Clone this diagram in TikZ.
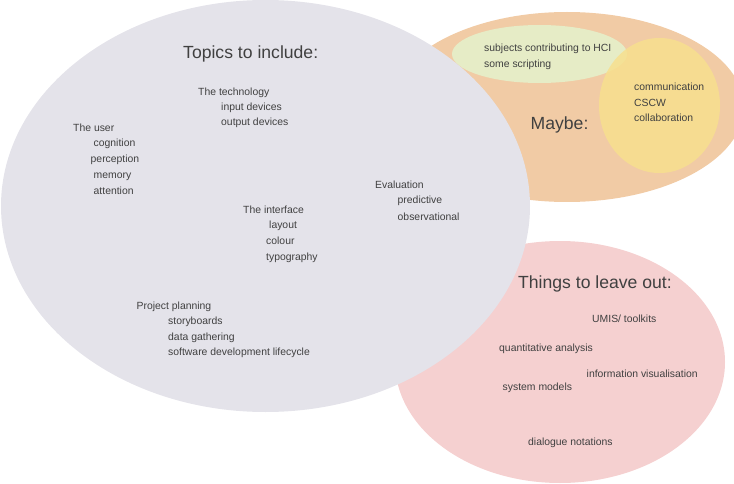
\documentclass[tikz,border=0pt]{standalone}
\usepackage{fontspec}
\setmainfont{Liberation Sans}
\definecolor{greyfill}{RGB}{228,227,234}
\definecolor{orangefill}{RGB}{241,203,165}
\definecolor{greenfill}{RGB}{230,236,198}
\definecolor{yellowfill}{RGB}{247,224,142}
\definecolor{pinkfill}{RGB}{245,208,208}
\definecolor{txt}{RGB}{64,64,64}
\tikzset{
  item/.style={anchor=base west, inner sep=0pt, text=txt, font=\fontsize{10.4}{12}\selectfont},
  heading/.style={anchor=base west, inner sep=0pt, text=txt, font=\fontsize{17.6}{20}\selectfont},
}
\begin{document}
\begin{tikzpicture}[x=1pt,y=-1pt]
\useasboundingbox (0,0) rectangle (734,484);
% ellipses
\fill[orangefill] (567,107) ellipse [x radius=177, y radius=95];
\fill[greenfill] (539.5,54) ellipse [x radius=87.5, y radius=29];
\fill[yellowfill, opacity=0.85] (659.5,105.5) ellipse [x radius=60.5, y radius=67.5];
\fill[pinkfill] (560,362) ellipse [x radius=165, y radius=121];
\fill[greyfill] (265.5,206) ellipse [x radius=264.5, y radius=206];
% topics to include
\node[heading] (topics) at (183,58.5) {Topics to include:};
\node[item] (tech) at (198,95.5) {The technology};
\node[item] (input) at (221,110.5) {input devices};
\node[item] (output) at (221,126) {output devices};
\node[item] (user) at (73,132) {The user};
\node[item] (cog) at (93.5,147) {cognition};
\node[item] (perc) at (90.5,163) {perception};
\node[item] (mem) at (93.5,178.5) {memory};
\node[item] (att) at (93.5,194) {attention};
\node[item] (eval) at (375,189) {Evaluation};
\node[item] (pred) at (397.5,204) {predictive};
\node[item] (obs) at (397.5,220) {observational};
\node[item] (iface) at (243,213) {The interface};
\node[item] (layout) at (269,229) {layout};
\node[item] (colour) at (266,244.5) {colour};
\node[item] (typo) at (266,260) {typography};
\node[item] (proj) at (136.5,309) {Project planning};
\node[item] (story) at (168,324.5) {storyboards};
\node[item] (data) at (168,340) {data gathering};
\node[item] (sdlc) at (168,355.5) {software development lifecycle};
% maybe
\node[heading] (maybe) at (530.5,130) {Maybe:};
\node[item] (subj) at (484,52) {subjects contributing to HCI};
\node[item] (script) at (484,67.5) {some scripting};
\node[item] (comm) at (634,91) {communication};
\node[item] (cscw) at (634,106.5) {CSCW};
\node[item] (collab) at (634,122) {collaboration};
% leave out
\node[heading] (leave) at (518,288.5) {Things to leave out:};
\node[item] (umis) at (592,322) {UMIS/ toolkits};
\node[item] (quant) at (499,351) {quantitative analysis};
\node[item] (info) at (586.5,377) {information visualisation};
\node[item] (sysm) at (502.5,390) {system models};
\node[item] (dial) at (528,445) {dialogue notations};
\end{tikzpicture}
\end{document}
